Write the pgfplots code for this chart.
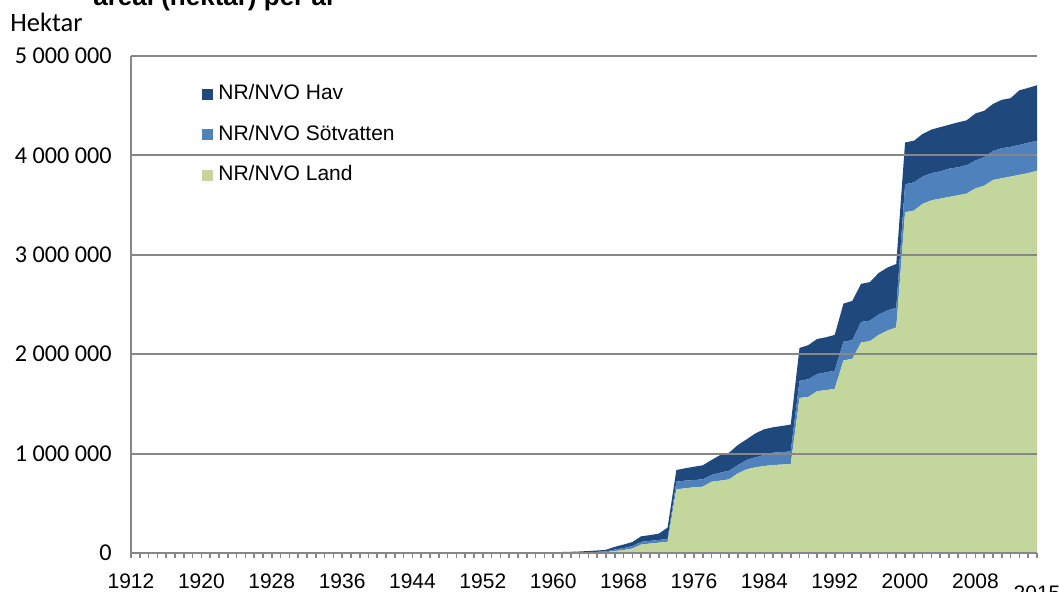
\documentclass[border=0pt]{standalone}
\usepackage{pgfplots}
\usepackage{pgfplotstable}
\pgfplotsset{compat=1.18}
\usepackage{fontspec}
\setmainfont{Liberation Sans}
\newfontfamily\calibri{Carlito}
\definecolor{hav}{HTML}{1F497D}
\definecolor{sot}{HTML}{4F81BD}
\definecolor{land}{HTML}{C3D69B}
\definecolor{gridgray}{HTML}{878787}

% values in thousand hectares
\pgfplotstableread{
year land sot hav
1912 0 0 0
1958 0 0 0
1959 0 1 2
1960 1 2 5
1961 1 3 6
1962 2 3 7
1963 3 4 8
1964 4 5 11
1965 6 6 13
1966 8 8 16
1967 20 15 27
1968 30 20 35
1969 45 25 40
1970 85 27 56
1971 95 27 58
1972 104 27 64
1973 112 28 115
1974 641 76 118
1975 651 77 124
1976 661 73 134
1977 667 74 141
1978 717 68 151
1979 728 80 178
1980 741 87 181
1981 802 83 202
1982 842 94 208
1983 862 101 241
1984 875 111 259
1985 885 124 256
1986 890 125 263
1987 892 130 270
1988 1560 171 332
1989 1570 178 343
1990 1628 172 353
1991 1638 179 353
1992 1652 182 360
1993 1937 188 384
1994 1954 188 394
1995 2118 206 384
1996 2132 206 387
1997 2194 205 418
1998 2238 202 432
1999 2269 199 439
2000 3428 281 421
2001 3445 284 418
2002 3513 274 429
2003 3548 274 438
2004 3565 274 445
2005 3582 284 442
2006 3599 281 452
2007 3616 285 452
2008 3668 281 473
2009 3695 288 466
2010 3753 292 473
2011 3770 302 487
2012 3787 299 490
2013 3805 301 549
2014 3822 305 552
2015 3846 301 559
}\datatable

\begin{document}
\begin{tikzpicture}
\begin{axis}[
  at={(65.5pt,19.5pt)}, anchor=south west,
  scale only axis, width=453pt, height=248.5pt,
  xmin=1912, xmax=2015, ymin=0, ymax=5000000,
  stack plots=y, area style,
  axis lines*=left,
  axis line style={gridgray, line width=1pt},
  ymajorgrids, grid style={gridgray, line width=1pt},
  scaled y ticks=false,
  ytick={0,1000000,2000000,3000000,4000000,5000000},
  yticklabels={0,1 000 000,2 000 000,3 000 000,4 000 000,5 000 000},
  ytick style={draw=none},
  yticklabel style={font=\calibri\fontsize{12.1}{13}\selectfont, inner sep=0pt, anchor=east, xshift=-7pt},
  xtick={1912,1920,1928,1936,1944,1952,1960,1968,1976,1984,1992,2000,2008},
  xticklabels={1912,1920,1928,1936,1944,1952,1960,1968,1976,1984,1992,2000,2008},
  minor xtick={1912,1913,...,2015},
  extra x ticks={2015}, extra x tick labels={2015},
  extra x tick style={xticklabel style={yshift=-6pt}},
  tick align=outside,
  major tick length=2.5pt, minor tick length=2.5pt,
  xtick style={gridgray, line width=0.8pt},
  minor x tick style={gridgray, line width=0.8pt},
  xticklabel style={font=\fontsize{10.5}{12}\selectfont, inner sep=0pt, anchor=north, yshift=-7.5pt},
  clip=false,
  reverse legend,
  legend cell align=left,
  legend style={at={(axis description cs:0,1)}, anchor=north west,
    xshift=35.5pt, yshift=-14.25pt, draw=none, fill=none,
    font=\fontsize{10.5}{12}\selectfont, row sep=10.75pt, inner sep=0pt,
    nodes={inner sep=0pt, text height=7.5pt, text depth=2pt}},
  legend image code/.code={\fill[#1] (0pt,-2.75pt) rectangle (5.5pt,2.75pt); \path (8pt,0pt);},
]
\addplot[fill=land, draw=none] table[x=year, y expr=\thisrow{land}*1000] {\datatable} \closedcycle;
\addlegendentry{NR/NVO Land}
\addplot[fill=sot, draw=none] table[x=year, y expr=\thisrow{sot}*1000] {\datatable} \closedcycle;
\addlegendentry{NR/NVO Sötvatten}
\addplot[fill=hav, draw=none] table[x=year, y expr=\thisrow{hav}*1000] {\datatable} \closedcycle;
\addlegendentry{NR/NVO Hav}
\fill[white] (axis cs:1912.15,3950000) rectangle (axis cs:1949.05,4050000);
\end{axis}
\node[anchor=base west, inner sep=0pt, font=\calibri\fontsize{13.25}{15}\selectfont] at (5pt,280pt) {Hektar};
\node[anchor=base west, inner sep=0pt, font=\bfseries\fontsize{13}{15}\selectfont] at (46.5pt,293pt) {areal (hektar) per år};
\pgfresetboundingbox
\useasboundingbox (0,0) rectangle (529.5pt,296pt);
\end{tikzpicture}
\end{document}
